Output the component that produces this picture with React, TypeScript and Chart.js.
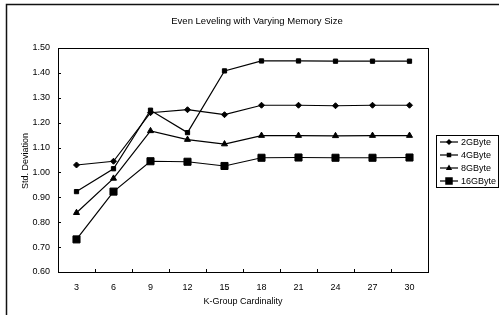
import React, { useEffect, useRef } from "react";
import { Chart, registerables } from "chart.js";

Chart.register(...registerables);

const categories = ["3", "6", "9", "12", "15", "18", "21", "24", "27", "30"];
const yTicks = [0.6, 0.7, 0.8, 0.9, 1.0, 1.1, 1.2, 1.3, 1.4, 1.5];
const seriesNames = ["2GByte", "4GByte", "8GByte", "16GByte"];
const s2GB = [1.03, 1.045, 1.24, 1.252, 1.232, 1.27, 1.27, 1.268, 1.27, 1.27];
const s4GB = [0.923, 1.015, 1.25, 1.16, 1.408, 1.448, 1.448, 1.447, 1.447, 1.447];
const s8GB = [0.838, 0.976, 1.167, 1.132, 1.114, 1.148, 1.148, 1.147, 1.148, 1.148];
const s16GB = [0.731, 0.923, 1.045, 1.043, 1.026, 1.059, 1.06, 1.059, 1.059, 1.06];
const titleText = "Even Leveling with Varying Memory Size";
const xTitle = "K-Group Cardinality";
const yTitle = "Std. Deviation";

const FONT = "'Liberation Sans', Arial, sans-serif";
const styles = ["rectRot", "rect", "triangle", "rect"];
const radii = [3, 3, 3.5, 5];

function marker(ctx: CanvasRenderingContext2D, style: string, r: number, x: number, y: number) {
  ctx.beginPath();
  if (style === "rectRot") {
    ctx.moveTo(x, y - r);
    ctx.lineTo(x + r, y);
    ctx.lineTo(x, y + r);
    ctx.lineTo(x - r, y);
    ctx.closePath();
  } else if (style === "triangle") {
    ctx.moveTo(x, y - r);
    ctx.lineTo(x + r * 0.9, y + r * 0.6);
    ctx.lineTo(x - r * 0.9, y + r * 0.6);
    ctx.closePath();
  } else {
    const h = r * 0.75;
    ctx.rect(x - h, y - h, 2 * h, 2 * h);
  }
  ctx.fill();
}

export default function App() {
  const ref = useRef<HTMLCanvasElement | null>(null);
  useEffect(() => {
    document.body.style.margin = "0";
    const canvas = ref.current!;
    const data = [s2GB, s4GB, s8GB, s16GB];
    const decor = {
      id: "decor",
      afterDraw(chart: any) {
        const ctx = chart.ctx as CanvasRenderingContext2D;
        const a = chart.chartArea;
        const ys = chart.scales.y;
        const xs = chart.scales.x;
        ctx.save();
        // outer frame
        ctx.strokeStyle = "#111";
        ctx.lineWidth = 1.5;
        ctx.beginPath();
        ctx.moveTo(6.5, 315);
        ctx.lineTo(6.5, 4.5);
        ctx.lineTo(499, 4.5);
        ctx.stroke();
        // plot border
        ctx.lineWidth = 1;
        ctx.strokeStyle = "#000";
        ctx.strokeRect(a.left + 0.5, a.top + 0.5, a.right - a.left, a.bottom - a.top);
        // inward ticks
        ctx.beginPath();
        yTicks.forEach((v) => {
          const y = Math.round(ys.getPixelForValue(v)) + 0.5;
          ctx.moveTo(a.left, y);
          ctx.lineTo(a.left + 3, y);
        });
        for (let i = 1; i < categories.length; i++) {
          const x = Math.round((xs.getPixelForValue(i - 1) + xs.getPixelForValue(i)) / 2) + 0.5;
          ctx.moveTo(x, a.bottom);
          ctx.lineTo(x, a.bottom - 3);
        }
        ctx.stroke();
        // title
        ctx.fillStyle = "#000";
        ctx.font = `9.5px ${FONT}`;
        ctx.textAlign = "center";
        ctx.textBaseline = "middle";
        ctx.fillText(titleText, 257, 21);
        // y title
        ctx.save();
        ctx.translate(26, 161);
        ctx.rotate(-Math.PI / 2);
        ctx.font = `9px ${FONT}`;
        ctx.fillText(yTitle, 0, 0);
        ctx.restore();
        // legend
        const lx = 436, ly = 135, lw = 62, lh = 52;
        ctx.strokeStyle = "#000";
        ctx.lineWidth = 1;
        ctx.strokeRect(lx + 0.5, ly + 0.5, lw, lh);
        ctx.font = `9px ${FONT}`;
        ctx.textAlign = "left";
        seriesNames.forEach((name, i) => {
          const y = 142 + i * 13;
          ctx.beginPath();
          ctx.lineWidth = 1.2;
          ctx.moveTo(440, y);
          ctx.lineTo(458, y);
          ctx.stroke();
          ctx.fillStyle = "#000";
          marker(ctx, styles[i], radii[i], 449, y);
          ctx.fillText(name, 461, y + 0.5);
        });
        ctx.restore();
      },
    };
    const chart = new Chart(canvas, {
      type: "line",
      data: {
        labels: categories,
        datasets: seriesNames.map((n, i) => ({
          label: n,
          data: data[i],
          borderColor: "#000",
          backgroundColor: "#000",
          borderWidth: 1.2,
          pointStyle: styles[i] as any,
          pointRadius: radii[i],
          pointBorderWidth: 1,
          tension: 0,
        })),
      },
      options: {
        animation: false,
        responsive: false,
        layout: { padding: { top: 48, right: 71, left: 0, bottom: 0 } },
        plugins: { legend: { display: false }, title: { display: false }, tooltip: { enabled: false } },
        scales: {
          x: {
            offset: true,
            border: { display: false },
            grid: { display: false, drawTicks: false },
            ticks: { color: "#000", font: { family: FONT, size: 9 }, padding: 10, maxRotation: 0 },
            title: { display: true, text: xTitle, color: "#000", font: { family: FONT, size: 9 }, padding: { top: 3, bottom: 8 } },
            afterFit(s: any) { s.height = 43; },
          },
          y: {
            min: 0.6,
            max: 1.5,
            border: { display: false },
            grid: { display: false, drawTicks: false },
            afterBuildTicks(s: any) { s.ticks = yTicks.map((v) => ({ value: v })); },
            ticks: { color: "#000", font: { family: FONT, size: 9 }, padding: 8, callback: (v: any) => Number(v).toFixed(2) },
            afterFit(s: any) { s.width = 58; },
          },
        },
      },
      plugins: [decor],
    });
    return () => chart.destroy();
  }, []);
  return <canvas ref={ref} width={499} height={315} style={{ display: "block", width: 499, height: 315 }} />;
}
